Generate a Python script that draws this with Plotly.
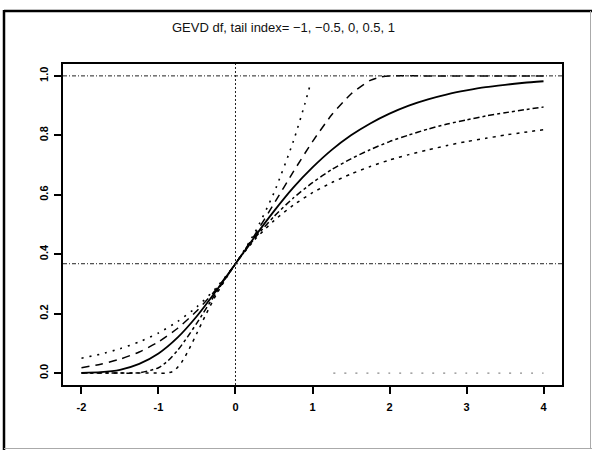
import plotly.graph_objects as go

# ---- data (GEV distribution functions) ----
tail_index = [-1, -0.5, 0, 0.5, 1]

x_m1 = [-2, -1.75, -1.5, -1.25, -1, -0.75, -0.5, -0.25, 0, 0.25, 0.5, 0.75, 0.9, 0.96]
f_m1 = [0.050, 0.064, 0.082, 0.105, 0.135, 0.174, 0.223, 0.287, 0.368, 0.472, 0.607, 0.779, 0.905, 0.961]
# same series beyond its upper end point (drawn at zero in the picture)
x_m1_tail = [1.27, 2, 2.5, 3, 3.5, 4]
f_m1_tail = [0.0, 0.0, 0.0, 0.0, 0.0, 0.0]

x_m05 = [-2, -1.75, -1.5, -1.25, -1, -0.75, -0.5, -0.25, 0, 0.25, 0.5, 0.75, 1, 1.25, 1.5, 1.75, 1.9, 2,
         2.5, 3, 3.5, 4]
f_m05 = [0.018, 0.030, 0.047, 0.071, 0.105, 0.151, 0.210, 0.282, 0.368, 0.465, 0.570, 0.677, 0.779, 0.869,
         0.939, 0.985, 0.997, 1.0, 1.0, 1.0, 1.0, 1.0]

x_0 = [-2, -1.75, -1.5, -1.25, -1, -0.75, -0.5, -0.25, 0, 0.25, 0.5, 0.75, 1, 1.25, 1.5, 1.75, 2,
       2.25, 2.5, 2.75, 3, 3.25, 3.5, 3.75, 4]
f_0 = [0.001, 0.003, 0.011, 0.031, 0.066, 0.120, 0.192, 0.277, 0.368, 0.459, 0.545, 0.624, 0.692, 0.751,
       0.800, 0.840, 0.873, 0.900, 0.921, 0.938, 0.951, 0.962, 0.970, 0.977, 0.982]

x_05 = [-2, -1.75, -1.5, -1.25, -1, -0.875, -0.75, -0.625, -0.5, -0.25, 0, 0.25, 0.5, 0.75, 1, 1.25, 1.5,
        1.75, 2, 2.25, 2.5, 2.75, 3, 3.25, 3.5, 3.75, 4]
f_05 = [0.0, 0.0, 0.0, 0.001, 0.018, 0.042, 0.077, 0.121, 0.169, 0.271, 0.368, 0.454, 0.527, 0.589, 0.641,
        0.685, 0.721, 0.752, 0.779, 0.801, 0.821, 0.838, 0.852, 0.865, 0.876, 0.886, 0.895]

x_1 = [-2, -1.5, -1, -0.9, -0.8, -0.7, -0.6, -0.5, -0.4, -0.25, 0, 0.25, 0.5, 0.75, 1, 1.25, 1.5, 1.75,
       2, 2.25, 2.5, 2.75, 3, 3.25, 3.5, 3.75, 4]
f_1 = [0.0, 0.0, 0.0, 0.0, 0.007, 0.036, 0.082, 0.135, 0.189, 0.264, 0.368, 0.449, 0.513, 0.565, 0.607,
       0.641, 0.670, 0.695, 0.717, 0.735, 0.751, 0.766, 0.779, 0.790, 0.801, 0.810, 0.819]

ref_levels = [1.0, 0.368]
ref_x = [0.0]

x_ticks = [-2, -1, 0, 1, 2, 3, 4]
y_ticks = [0.0, 0.2, 0.4, 0.6, 0.8, 1.0]
title_text = "GEVD df, tail index= \u22121, \u22120.5, 0, 0.5, 1"

# ---- layout geometry (pixels) ----
W, H = 592, 450
ML, MR, MT, MB = 63, 30, 64, 65
PW, PH = W - ML - MR, H - MT - MB


def px(x):
    return (x - ML) / PW


def py(y):
    return (H - MB - y) / PH


series = [
    (x_m1, f_m1, dict(dash="2px,6px", width=1.6, color="black")),
    (x_m1_tail, f_m1_tail, dict(dash="2px,9px", width=1.2, color="#888")),
    (x_m05, f_m05, dict(dash="8px,6px", width=1.5, color="black")),
    (x_0, f_0, dict(dash="solid", width=1.8, color="black")),
    (x_05, f_05, dict(dash="6px,3px,3px,3px", width=1.5, color="black")),
    (x_1, f_1, dict(dash="3px,5px", width=1.5, color="black")),
]
names = ["tail index -1", "tail index -1", "tail index -0.5", "tail index 0", "tail index 0.5", "tail index 1"]

fig = go.Figure()
for (xs, ys, st), nm in zip(series, names):
    fig.add_trace(go.Scatter(
        x=xs, y=ys, mode="lines", name=nm,
        line=dict(color=st["color"], width=st["width"], dash=st["dash"], shape="spline", smoothing=0.6),
        showlegend=False,
    ))

shapes = []
for lv in ref_levels:
    shapes.append(dict(type="line", xref="paper", yref="y", x0=0, x1=1, y0=lv, y1=lv,
                       line=dict(color="#222", width=1, dash="4px,2px,1px,2px")))
for xv in ref_x:
    shapes.append(dict(type="line", xref="x", yref="paper", x0=xv, x1=xv, y0=0, y1=1,
                       line=dict(color="#222", width=1, dash="2px,2px")))

# outer frame
shapes.append(dict(type="line", xref="paper", yref="paper", x0=px(4), x1=px(4), y0=py(10), y1=py(450),
                   line=dict(color="black", width=2.5)))
shapes.append(dict(type="line", xref="paper", yref="paper", x0=px(4), x1=px(592), y0=py(11), y1=py(11),
                   line=dict(color="black", width=2.5)))
shapes.append(dict(type="line", xref="paper", yref="paper", x0=px(590.5), x1=px(590.5), y0=py(11), y1=py(449),
                   line=dict(color="#aaa", width=1)))
shapes.append(dict(type="line", xref="paper", yref="paper", x0=px(4), x1=px(592), y0=py(448.5), y1=py(448.5),
                   line=dict(color="#aaa", width=1)))

fig.update_layout(
    width=W, height=H,
    margin=dict(l=ML, r=MR, t=MT, b=MB),
    paper_bgcolor="white", plot_bgcolor="white",
    shapes=shapes,
    annotations=[dict(text=title_text, xref="paper", yref="paper", x=px(283), y=py(27),
                      showarrow=False, xanchor="center", yanchor="middle",
                      font=dict(family="Liberation Sans, Arial", size=13, color="#111"))],
)

fig.update_xaxes(
    range=[-2.24, 4.24], tickmode="array", tickvals=x_ticks, ticktext=[str(v) for v in x_ticks],
    showgrid=False, zeroline=False, showline=True, mirror=True, linecolor="black", linewidth=1.5,
    ticks="outside", ticklen=7, tickwidth=1.5, tickcolor="black", ticklabelstandoff=4,
    tickfont=dict(family="Liberation Sans, Arial", size=11, color="black", weight="bold"),
)
fig.update_yaxes(
    range=[-0.04, 1.04], tickmode="array", tickvals=y_ticks, ticktext=[f"{v:.1f}" for v in y_ticks],
    tickangle=-90,
    showgrid=False, zeroline=False, showline=True, mirror=True, linecolor="black", linewidth=1.5,
    ticks="outside", ticklen=7, tickwidth=1.5, tickcolor="black", ticklabelstandoff=2,
    tickfont=dict(family="Liberation Sans, Arial", size=11, color="black", weight="bold"),
)

fig.write_html("out.html")
